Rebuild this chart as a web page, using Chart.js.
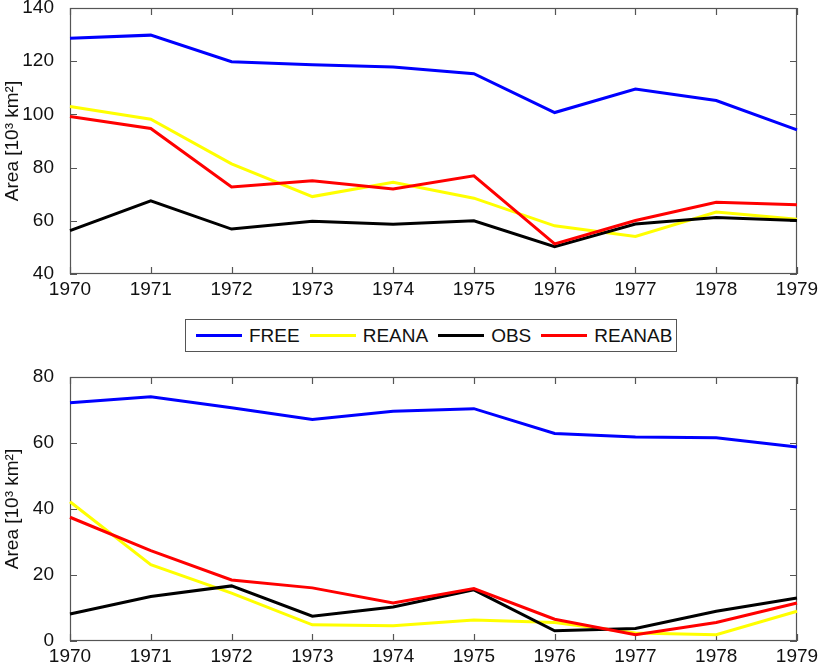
<!DOCTYPE html>
<html>
<head>
<meta charset="utf-8">
<script src="https://cdn.jsdelivr.net/npm/chart.js@4.4.1/dist/chart.umd.min.js"></script>
<style>
  html, body { margin: 0; padding: 0; background: #fff; }
  body { width: 818px; height: 663px; position: relative; overflow: hidden; font-family: "Liberation Sans", Arial, sans-serif; }
  .panel { position: absolute; left: 0; width: 818px; }
  #topPanel { top: 0; height: 300px; }
  #bottomPanel { top: 300px; height: 363px; }
  #legend {
    position: absolute; left: 185px; top: 319px; width: 492px; height: 33px;
    box-sizing: border-box; border: 1px solid #555; background: #fff; z-index: 2;
    display: flex; align-items: center; padding-left: 10px;
    font-size: 19px; color: #111;
  }
  #legend .item { display: flex; align-items: center; margin-right: 10px; }
  #legend .swatch { width: 46px; height: 3px; margin-right: 7px; }
</style>
</head>
<body>
<div class="panel" id="topPanel"><canvas id="topChart"></canvas></div>
<div class="panel" id="bottomPanel"><canvas id="bottomChart"></canvas></div>
<div id="legend"></div>

<script>
// x categories
const years = ['1970', '1971', '1972', '1973', '1974', '1975', '1976', '1977', '1978', '1979'];

// series names and colours (legend order)
const seriesNames = ['FREE', 'REANA', 'OBS', 'REANAB'];
const seriesColors = ['#0000ff', '#ffff00', '#000000', '#ff0000'];

// upper panel values, 10^3 km^2
const topFree   = [128.6, 129.8, 119.8, 118.7, 117.8, 115.3, 100.7, 109.5, 105.2, 94.2];
const topReana  = [103.0, 98.2, 81.4, 69.1, 74.5, 68.5, 58.1, 54.1, 63.3, 60.6];
const topObs    = [56.3, 67.5, 56.9, 59.8, 58.7, 60.0, 50.3, 58.8, 61.2, 60.1];
const topReanab = [99.2, 94.7, 72.7, 75.1, 72.0, 76.9, 51.3, 60.1, 67.0, 66.0];

// lower panel values, 10^3 km^2
const botFree   = [72.2, 74.0, 70.7, 67.1, 69.6, 70.4, 62.9, 61.8, 61.6, 58.8];
const botReana  = [42.2, 23.1, 14.5, 4.9, 4.6, 6.4, 5.6, 2.4, 1.9, 9.0];
const botObs    = [8.2, 13.5, 16.7, 7.5, 10.3, 15.5, 3.1, 3.8, 9.0, 13.0];
const botReanab = [37.5, 27.4, 18.5, 16.1, 11.5, 15.9, 6.6, 1.9, 5.6, 11.5];

// y tick ranges
const topTicks = [40, 60, 80, 100, 120, 140];
const botTicks = [0, 20, 40, 60, 80];

const axisColor = '#555';
const textColor = '#111';
const fontFamily = '"Liberation Sans", Arial, sans-serif';

// matlab-like box with inward ticks on all four sides
const matlabFrame = {
  id: 'matlabFrame',
  beforeDatasetsDraw(chart) {
    const { ctx, chartArea: a, scales: { x, y } } = chart;
    const len = 7;
    ctx.save();
    ctx.strokeStyle = axisColor;
    ctx.lineWidth = 1.2;
    ctx.strokeRect(a.left + 0.5, a.top + 0.5, a.width - 1, a.height - 1);
    ctx.beginPath();
    x.ticks.forEach((t, i) => {
      const px = Math.round(x.getPixelForTick(i)) + 0.5;
      ctx.moveTo(px, a.bottom); ctx.lineTo(px, a.bottom - len);
      ctx.moveTo(px, a.top); ctx.lineTo(px, a.top + len);
    });
    y.ticks.forEach((t, i) => {
      const py = Math.round(y.getPixelForTick(i)) + 0.5;
      ctx.moveTo(a.left, py); ctx.lineTo(a.left + len, py);
      ctx.moveTo(a.right, py); ctx.lineTo(a.right - len, py);
    });
    ctx.stroke();
    ctx.restore();
  }
};

function makeDatasets(values) {
  return values.map((v, i) => ({
    label: seriesNames[i],
    data: v,
    borderColor: seriesColors[i],
    backgroundColor: seriesColors[i],
    borderWidth: 3,
    pointRadius: 0,
    tension: 0,
    order: values.length - i   // last series drawn on top
  }));
}

function makeChart(canvasId, values, ticks, padTop, xHeight) {
  return new Chart(document.getElementById(canvasId), {
    type: 'line',
    data: { labels: years, datasets: makeDatasets(values) },
    options: {
      responsive: true,
      maintainAspectRatio: false,
      animation: false,
      layout: { padding: { top: padTop, right: 21, left: 0, bottom: 0 } },
      scales: {
        x: {
          grid: { display: false },
          border: { display: false },
          ticks: { color: textColor, padding: -4, maxRotation: 0, autoSkip: false, font: { family: fontFamily, size: 19 } },
          afterFit(scale) { scale.height = xHeight; scale.paddingLeft = 0; scale.paddingRight = 0; }
        },
        y: {
          min: ticks[0],
          max: ticks[ticks.length - 1],
          grid: { display: false },
          border: { display: false },
          afterBuildTicks(scale) { scale.ticks = ticks.map(v => ({ value: v })); },
          ticks: { color: textColor, padding: 8, font: { family: fontFamily, size: 19 } },
          title: {
            display: true,
            text: 'Area [10³ km²]',
            color: textColor,
            padding: { top: 1, bottom: 0 },
            font: { family: fontFamily, size: 19 }
          },
          afterFit(scale) { scale.width = 70; scale.paddingTop = 0; scale.paddingBottom = 0; }
        }
      },
      plugins: {
        legend: { display: false },
        tooltip: { enabled: false }
      }
    },
    plugins: [matlabFrame]
  });
}

makeChart('topChart', [topFree, topReana, topObs, topReanab], topTicks, 8, 26);
makeChart('bottomChart', [botFree, botReana, botObs, botReanab], botTicks, 77, 22);

// shared legend between the panels
const legend = document.getElementById('legend');
seriesNames.forEach((name, i) => {
  const item = document.createElement('div');
  item.className = 'item';
  const sw = document.createElement('span');
  sw.className = 'swatch';
  sw.style.background = seriesColors[i];
  const txt = document.createElement('span');
  txt.textContent = name;
  item.appendChild(sw);
  item.appendChild(txt);
  legend.appendChild(item);
});
</script>
</body>
</html>
